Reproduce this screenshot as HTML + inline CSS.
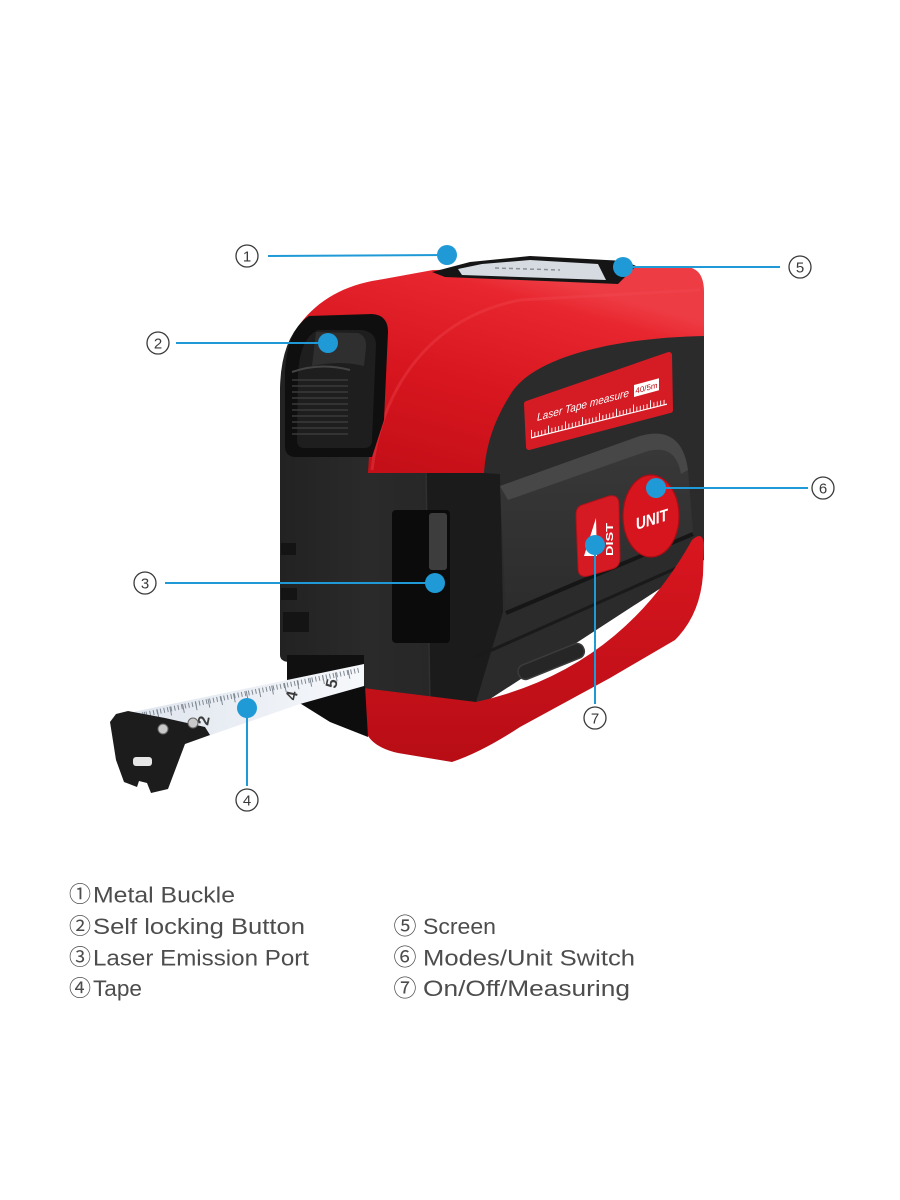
<!DOCTYPE html>
<html><head><meta charset="utf-8"><style>
html,body{margin:0;padding:0;background:#fff;}
svg{display:block;}
</style></head><body>
<svg width="900" height="1200" viewBox="0 0 900 1200" xmlns="http://www.w3.org/2000/svg" font-family="'Liberation Sans', sans-serif">
<defs>
<linearGradient id="hood" gradientUnits="userSpaceOnUse" x1="500" y1="265" x2="440" y2="480">
<stop offset="0" stop-color="#ee3c44"/><stop offset="0.12" stop-color="#e8262f"/><stop offset="0.55" stop-color="#d8161f"/><stop offset="1" stop-color="#c50f18"/>
</linearGradient>
<linearGradient id="redb" x1="0" y1="0" x2="0" y2="1">
<stop offset="0" stop-color="#d9161f"/><stop offset="1" stop-color="#b80d16"/>
</linearGradient>
<linearGradient id="leftf" x1="0" y1="0" x2="1" y2="0">
<stop offset="0" stop-color="#222"/><stop offset="0.45" stop-color="#2a2a2a"/><stop offset="1" stop-color="#252525"/>
</linearGradient>
<linearGradient id="tapeg" x1="0" y1="0" x2="1" y2="0">
<stop offset="0" stop-color="#dfe5ee"/><stop offset="1" stop-color="#f6f8fb"/>
</linearGradient>
<linearGradient id="plat" x1="0" y1="0" x2="0" y2="1">
<stop offset="0" stop-color="#393939"/><stop offset="1" stop-color="#2c2c2c"/>
</linearGradient>
</defs>

<!-- front panel base -->
<path d="M470,330 L704,330 L704,560 L470,712 Z" fill="#2b2b2b"/>
<!-- black body -->
<path d="M280,655 L280,388 Q281,342 303,321 L420,316 L472,340 L472,712 L363,712 L363,662 L288,662 Q280,661 280,655 Z" fill="url(#leftf)"/>
<!-- corner column -->
<path d="M426,470 L500,474 L503,612 L476,702 L430,708 Z" fill="#1b1b1b"/>
<line x1="426" y1="472" x2="430" y2="706" stroke="#303030" stroke-width="1.5"/>

<!-- red hood -->
<path d="M300,324 C318,300 345,285 378,280 L433,270 L686,267 Q704,268 704,292 L704,336 C610,338 535,358 512,392 C494,420 486,445 484,473 L368,473 L370,440 L380,420 L387,332 L380,316 Z" fill="url(#hood)"/>
<path d="M372,470 C380,400 420,320 520,300 L700,290" fill="none" stroke="#f04a52" stroke-width="3" opacity="0.35"/>

<!-- screen on top -->
<polygon points="432,272 470,262 530,256 625,261 636,266 618,284 445,277" fill="#151515"/>
<polygon points="458,269 482,264 530,260 598,264 606,280 462,275" fill="#d6dbe1"/>
<line x1="495" y1="268" x2="560" y2="270" stroke="#8a9098" stroke-width="1.5" stroke-dasharray="4 3"/>

<!-- label plate -->
<polygon points="527,404 669,355 670,410 529,447" fill="#d51c25" stroke="#d51c25" stroke-width="6" stroke-linejoin="round"/>
<text transform="translate(537,421) skewY(-15)" font-size="11" font-style="italic" fill="#fff" textLength="92" lengthAdjust="spacingAndGlyphs">Laser Tape measure</text>
<g transform="translate(634,396) skewY(-15)">
<rect x="0" y="-11" width="25" height="12" fill="#fff"/>
<text x="12.5" y="-2" font-size="8" text-anchor="middle" fill="#c01018">40/5m</text>
</g>
<g transform="translate(531,438) skewY(-14)">
<line x1="0" y1="0" x2="136" y2="0" stroke="#fff" stroke-width="1.2"/>
<line x1="0" y1="-2.5" x2="136" y2="-2.5" stroke="#fff" stroke-width="5" stroke-dasharray="0.9 2.5"/>
<line x1="0" y1="-4" x2="136" y2="-4" stroke="#fff" stroke-width="8" stroke-dasharray="0.9 16.1"/>
</g>

<!-- raised platform -->
<path d="M500,486 L640,436 C668,428 684,440 688,470 L693,532 L506,612 Z" fill="url(#plat)"/>
<path d="M500,486 L640,436 C668,428 684,440 688,470 L681,474 C677,452 665,446 645,452 L508,500 Z" fill="#474747"/>
<line x1="506" y1="613" x2="693" y2="534" stroke="#161616" stroke-width="4"/>
<!-- lower tray -->
<line x1="474" y1="658" x2="690" y2="562" stroke="#1a1a1a" stroke-width="3"/>
<rect x="516" y="654" width="70" height="15" rx="7" transform="rotate(-22 551 661)" fill="#262626" stroke="#3b3b3b" stroke-width="1.5"/>

<!-- red bottom -->
<path d="M363,688 L476,702 Q620,670 692,540 Q703,530 704,545 L703,575 Q700,615 675,640 L610,678 L520,727 Q482,752 452,762 L398,753 Q372,747 366,732 Z" fill="url(#redb)"/>

<!-- buttons -->
<path d="M582,505 L609,496 Q619,494 619,505 L620,558 Q620,567 612,569 L588,576 Q578,578 578,568 L576,515 Q576,507 582,505 Z" fill="#d61a23" stroke="#b3121a" stroke-width="1"/>
<polygon points="596,518 584,556 597,556" fill="#fff"/>
<text transform="translate(613,556) rotate(-90)" font-size="10" font-weight="bold" fill="#fff" textLength="33" lengthAdjust="spacingAndGlyphs">DIST</text>
<ellipse cx="651" cy="516" rx="28" ry="41" fill="#d6151f" stroke="#a80d15" stroke-width="1.2"/>
<text transform="translate(636,530) skewY(-17)" font-size="17" font-weight="bold" fill="#fff" textLength="32" lengthAdjust="spacingAndGlyphs">UNIT</text>

<!-- self-locking button frame -->
<path d="M285,372 Q287,330 309,316 L372,314 Q388,315 388,332 L384,420 L372,457 L296,457 Q285,457 285,446 Z" fill="#0f0f0f"/>
<path d="M298,374 Q300,338 318,330 L362,330 Q376,332 376,345 L372,440 Q372,448 364,448 L304,448 Q297,448 297,440 Z" fill="#1e1e1e"/>
<path d="M316,332 L358,333 Q367,336 366,348 L364,366 Q340,360 312,366 Z" fill="#2f2f2f"/>
<path d="M292,372 Q320,362 350,370" fill="none" stroke="#444" stroke-width="2"/>
<g stroke="#3a3a3a" stroke-width="1.6">
<line x1="292" y1="380" x2="348" y2="380"/><line x1="292" y1="386" x2="348" y2="386"/>
<line x1="292" y1="392" x2="348" y2="392"/><line x1="292" y1="398" x2="348" y2="398"/>
<line x1="292" y1="404" x2="348" y2="404"/><line x1="292" y1="410" x2="348" y2="410"/>
<line x1="292" y1="416" x2="348" y2="416"/><line x1="292" y1="422" x2="348" y2="422"/>
<line x1="292" y1="428" x2="348" y2="428"/><line x1="292" y1="434" x2="348" y2="434"/>
</g>

<!-- left face notches -->
<g fill="#141414">
<rect x="281" y="543" width="15" height="12"/>
<rect x="281" y="588" width="16" height="12"/>
<rect x="283" y="612" width="26" height="20"/>
</g>

<!-- laser window -->
<rect x="392" y="510" width="58" height="133" rx="4" fill="#0b0b0b"/>
<rect x="429" y="513" width="18" height="57" rx="3" fill="#3d3d3d"/>

<!-- tape mouth -->
<rect x="287" y="655" width="77" height="35" fill="#101010"/>
<polygon points="298,702 365,686 368,737 330,722" fill="#0d0d0d"/>

<!-- tape -->
<polygon points="364,664 364,686 300,704 182,745 128,713" fill="url(#tapeg)"/>
<line x1="132" y1="717" x2="360" y2="670" stroke="#7f8892" stroke-width="5" stroke-dasharray="1 2.6"/>
<line x1="132" y1="719" x2="360" y2="672" stroke="#7f8892" stroke-width="9" stroke-dasharray="1 12"/>
<g font-size="16" font-weight="bold" fill="#3d3d3d">
<text transform="translate(208,726) rotate(-78)">2</text>
<text transform="translate(252,714) rotate(-78)">3</text>
<text transform="translate(296,701) rotate(-78)">4</text>
<text transform="translate(336,689) rotate(-78)">5</text>
</g>

<!-- hook -->
<path d="M110,722 L116,714 L128,711 L165,718 L205,727 L210,735 L185,744 L168,789 L151,793 L147,783 L139,781 L137,787 L124,782 L116,760 Z" fill="#1c1c1c"/>
<rect x="133" y="757" width="19" height="9" rx="3" fill="#e6e6e6"/>
<circle cx="163" cy="729" r="5" fill="#c9c9c9" stroke="#666" stroke-width="1"/>
<circle cx="193" cy="723" r="5" fill="#c9c9c9" stroke="#666" stroke-width="1"/>

<!-- callouts -->
<g stroke="#1f9ad6" stroke-width="2" fill="none">
<line x1="268" y1="256" x2="447" y2="255"/>
<line x1="623" y1="267" x2="780" y2="267"/>
<line x1="176" y1="343" x2="328" y2="343"/>
<line x1="165" y1="583" x2="435" y2="583"/>
<line x1="656" y1="488" x2="808" y2="488"/>
<line x1="595" y1="545" x2="595" y2="704"/>
<line x1="247" y1="708" x2="247" y2="786"/>
</g>
<g fill="#1f9ad6">
<circle cx="447" cy="255" r="10"/>
<circle cx="623" cy="267" r="10"/>
<circle cx="328" cy="343" r="10"/>
<circle cx="435" cy="583" r="10"/>
<circle cx="656" cy="488" r="10"/>
<circle cx="595" cy="545" r="10"/>
<circle cx="247" cy="708" r="10"/>
</g>
<g stroke="#3a3a3a" stroke-width="1.3" fill="none">
<circle cx="247" cy="256" r="11"/>
<circle cx="800" cy="267" r="11"/>
<circle cx="158" cy="343" r="11"/>
<circle cx="145" cy="583" r="11"/>
<circle cx="823" cy="488" r="11"/>
<circle cx="595" cy="718" r="11"/>
<circle cx="247" cy="800" r="11"/>
</g>
<g font-size="15" fill="#3a3a3a" text-anchor="middle">
<text x="247" y="261.5">1</text>
<text x="800" y="272.5">5</text>
<text x="158" y="348.5">2</text>
<text x="145" y="588.5">3</text>
<text x="823" y="493.5">6</text>
<text x="595" y="723.5">7</text>
<text x="247" y="805.5">4</text>
</g>

<!-- legend -->
<g font-family="'Liberation Sans', 'Noto Sans CJK JP', sans-serif" fill="#4d4d4d">
<text x="80" y="902" font-size="22" text-anchor="middle">①</text>
<text x="80" y="934" font-size="22" text-anchor="middle">②</text>
<text x="80" y="965" font-size="22" text-anchor="middle">③</text>
<text x="80" y="996" font-size="22" text-anchor="middle">④</text>
<text x="405" y="934" font-size="23" text-anchor="middle">⑤</text>
<text x="405" y="965" font-size="23" text-anchor="middle">⑥</text>
<text x="405" y="996" font-size="23" text-anchor="middle">⑦</text>
</g>
<g font-size="22" fill="#4d4d4d">
<text x="93" y="902.5" textLength="142" lengthAdjust="spacingAndGlyphs">Metal Buckle</text>
<text x="93" y="934" textLength="212" lengthAdjust="spacingAndGlyphs">Self locking Button</text>
<text x="93" y="965.5" textLength="216" lengthAdjust="spacingAndGlyphs">Laser Emission Port</text>
<text x="93" y="996" textLength="49" lengthAdjust="spacingAndGlyphs">Tape</text>
<text x="423" y="934" textLength="73" lengthAdjust="spacingAndGlyphs">Screen</text>
<text x="423" y="965.5" textLength="212" lengthAdjust="spacingAndGlyphs">Modes/Unit Switch</text>
<text x="423" y="996" textLength="207" lengthAdjust="spacingAndGlyphs">On/Off/Measuring</text>
</g>
</svg>
</body></html>
